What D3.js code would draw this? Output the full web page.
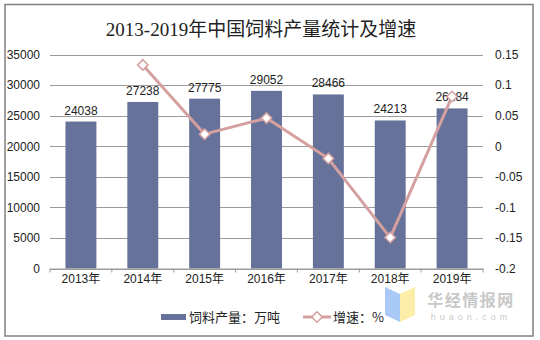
<!DOCTYPE html>
<html>
<head>
<meta charset="utf-8">
<script src="https://cdn.jsdelivr.net/npm/d3@7"></script>
<style>
  html, body { margin: 0; padding: 0; background: #fff; }
  svg { display: block; }
</style>
</head>
<body>
<svg id="chart" width="540" height="340"></svg>
<script>
// Annual data
const years = ["2013年", "2014年", "2015年", "2016年", "2017年", "2018年", "2019年"];
const output = [24038, 27238, 27775, 29052, 28466, 24213, 26184];   // 万吨
const growth = [null, 0.133, 0.0197, 0.046, -0.0202, -0.1494, 0.0814];
const leftTicks = [0, 5000, 10000, 15000, 20000, 25000, 30000, 35000];
const rightTicks = [-0.2, -0.15, -0.1, -0.05, 0, 0.05, 0.1, 0.15];

const svg = d3.select("#chart");
const m = { left: 50, right: 483, top: 54.5, bottom: 268.5 };

const barColor = "#66729A";
const lineColor = "#D4A0A0";
const gridColor = "#9a9a9a";
const sans = "'Liberation Sans', Arial, 'Noto Sans CJK SC', sans-serif";

// outer frame
svg.append("rect")
  .attr("x", 5).attr("y", 4.5).attr("width", 528).attr("height", 331.5)
  .attr("fill", "#fff").attr("stroke", "#808080").attr("stroke-width", 1.5);

// title
svg.append("text")
  .attr("x", 261).attr("y", 36)
  .attr("text-anchor", "middle")
  .attr("font-family", "'Liberation Serif', 'Noto Sans CJK SC', serif")
  .attr("font-size", 19)
  .attr("fill", "#222")
  .text("2013-2019年中国饲料产量统计及增速");

const x = d3.scaleBand().domain(years).range([m.left, m.right]).paddingInner(0.5).paddingOuter(0.25);
const xb = d3.scaleBand().domain(years).range([m.left, m.right]);
const y = d3.scaleLinear().domain([0, 35000]).range([m.bottom, m.top]);
const y2 = d3.scaleLinear().domain([-0.2, 0.15]).range([m.bottom, m.top]);

// gridlines
svg.append("g").selectAll("line").data(leftTicks).join("line")
  .attr("x1", m.left).attr("x2", m.right)
  .attr("y1", d => Math.round(y(d)) + 0.5).attr("y2", d => Math.round(y(d)) + 0.5)
  .attr("stroke", gridColor).attr("stroke-width", 1);

// left axis
const yAxis = svg.append("g")
  .attr("transform", `translate(${m.left},0)`)
  .call(d3.axisLeft(y).tickValues(leftTicks).tickSize(0).tickPadding(10).tickFormat(d3.format("d")));
yAxis.select(".domain").remove();
yAxis.selectAll("text").attr("font-family", sans).attr("font-size", 12).attr("fill", "#222");

// right axis
const y2Axis = svg.append("g")
  .attr("transform", `translate(${m.right},0)`)
  .call(d3.axisRight(y2).tickValues(rightTicks).tickSize(0).tickPadding(12).tickFormat(d => String(+d.toFixed(2))));
y2Axis.select(".domain").remove();
y2Axis.selectAll("text").attr("font-family", sans).attr("font-size", 12).attr("fill", "#222");

// bars
svg.append("g").selectAll("rect").data(output).join("rect")
  .attr("x", (d, i) => x(years[i]))
  .attr("width", x.bandwidth())
  .attr("y", d => y(d))
  .attr("height", d => y(0) - y(d))
  .attr("fill", barColor);

// bar value labels
svg.append("g").selectAll("text").data(output).join("text")
  .attr("x", (d, i) => x(years[i]) + x.bandwidth() / 2)
  .attr("y", d => y(d) - 7)
  .attr("text-anchor", "middle")
  .attr("font-family", sans).attr("font-size", 12).attr("fill", "#222")
  .text(d => d);

// x axis
const xAxis = svg.append("g")
  .attr("transform", `translate(0,${m.bottom})`)
  .call(d3.axisBottom(xb).tickSize(0).tickPadding(6));
xAxis.select(".domain").attr("stroke", gridColor);
xAxis.selectAll("text").attr("font-family", sans).attr("font-size", 12).attr("fill", "#222");
// category boundary ticks
svg.append("g").selectAll("line").data(years.concat(["end"])).join("line")
  .attr("x1", (d, i) => i < years.length ? xb(d) : m.right)
  .attr("x2", (d, i) => i < years.length ? xb(d) : m.right)
  .attr("y1", m.bottom).attr("y2", m.bottom + 4)
  .attr("stroke", gridColor);

// growth line
const pts = growth.map((g, i) => ({ g, yr: years[i] })).filter(p => p.g !== null);
const line = d3.line()
  .x(p => xb(p.yr) + xb.bandwidth() / 2)
  .y(p => y2(p.g));
svg.append("path").datum(pts)
  .attr("d", line)
  .attr("fill", "none").attr("stroke", lineColor).attr("stroke-width", 3)
  .attr("stroke-linejoin", "round");
const diamond = d3.symbol().type(d3.symbolDiamond2).size(70);
svg.append("g").selectAll("path").data(pts).join("path")
  .attr("transform", p => `translate(${xb(p.yr) + xb.bandwidth() / 2},${y2(p.g)})`)
  .attr("d", diamond)
  .attr("fill", "#fff").attr("stroke", lineColor).attr("stroke-width", 1.5);

// legend
const lg = svg.append("g").attr("font-family", "'Noto Sans CJK SC', sans-serif").attr("font-size", 13).attr("fill", "#222");
lg.append("rect").attr("x", 161).attr("y", 314).attr("width", 25).attr("height", 6).attr("fill", barColor);
lg.append("text").attr("x", 189).attr("y", 322).text("饲料产量：万吨");
lg.append("line").attr("x1", 303).attr("x2", 331).attr("y1", 317).attr("y2", 317)
  .attr("stroke", lineColor).attr("stroke-width", 3);
lg.append("path").attr("transform", "translate(317,317)").attr("d", diamond)
  .attr("fill", "#fff").attr("stroke", lineColor).attr("stroke-width", 1.5);
lg.append("text").attr("x", 333).attr("y", 322).text("增速：%");

// brand mark
const wm = svg.append("g");
wm.append("path").attr("d", "M385,287 L400,294 L400,322 L385,315 Z").attr("fill", "#A9C9F7");
wm.append("path").attr("d", "M400,294 L415,287 L415,315 L400,322 Z").attr("fill", "#FCEDA9");
wm.append("text").attr("x", 471).attr("y", 306).attr("text-anchor", "middle")
  .attr("font-family", "'Noto Sans CJK SC', sans-serif").attr("font-weight", "bold")
  .attr("font-size", 16).attr("fill", "#c8c8c8").attr("letter-spacing", 1.5).text("华经情报网");
wm.append("text").attr("x", 471).attr("y", 320).attr("text-anchor", "middle")
  .attr("font-family", sans).attr("font-size", 9).attr("fill", "#c8c8c8").attr("letter-spacing", 4).text("huaon.com");
</script>
</body>
</html>
